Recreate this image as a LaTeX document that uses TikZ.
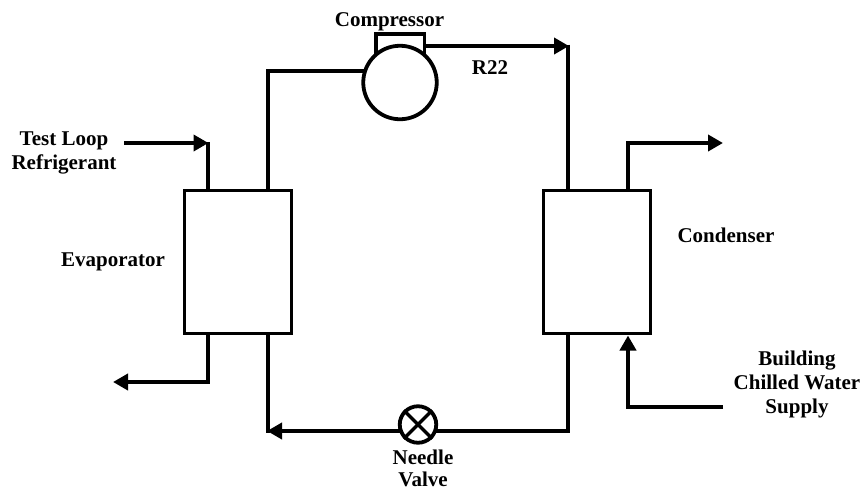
\documentclass[tikz,border=0pt]{standalone}
\usepackage{fontspec}
\setmainfont{Liberation Serif}
\usetikzlibrary{arrows.meta}
\tikzset{
  pipe/.style={line width=3.8pt,line cap=butt,line join=miter,draw=black},
  flow/.style={pipe,-{Triangle[length=15pt,width=16pt]}},
  exch/.style={draw=black,line width=3.4pt,fill=white,minimum width=107pt,minimum height=143pt,inner sep=0pt},
  lbl/.style={font=\fontsize{21pt}{24pt}\selectfont\bfseries,align=center,inner sep=0pt,text=black},
  comp/.style={circle,draw=black,line width=3.8pt,fill=white,minimum size=73.5pt,inner sep=0pt},
  vlv/.style={circle,draw=black,line width=3.8pt,fill=white,minimum size=36.5pt,inner sep=0pt}
}
\begin{document}
\begin{tikzpicture}[x=1pt,y=-1pt]
\useasboundingbox (0,0) rectangle (863,491);
\coordinate (inL) at (124,143);
\coordinate (tipL) at (208.5,143);
\coordinate (evapIn) at (208,190.5);
\coordinate (evapOutT) at (268,190.5);
\coordinate (a1) at (268,71);
\coordinate (cpL) at (370,71);
\coordinate (b1) at (376,60);
\coordinate (b2) at (376,34);
\coordinate (b3) at (424.5,34);
\coordinate (b4) at (424.5,60);
\coordinate (c1) at (424.5,46);
\coordinate (c2) at (569,46);
\coordinate (condT) at (568,190.5);
\coordinate (condB) at (568,333.5);
\coordinate (d1) at (568,431);
\coordinate (nvR) at (430,431);
\coordinate (nvL) at (405,431);
\coordinate (d2) at (267,431);
\coordinate (evapB) at (268,333.5);
\coordinate (e1) at (208,333.5);
\coordinate (e2) at (208,382);
\coordinate (e3) at (113,382);
\coordinate (f1) at (628,190.5);
\coordinate (f2) at (628,143);
\coordinate (f3) at (723,143);
\coordinate (g1) at (723,407);
\coordinate (g2) at (628,407);
\coordinate (g3) at (628,335.5);
% circuit
\draw[pipe] (evapOutT) -- (a1) -- (cpL);
\draw[pipe] (b1) -- (b2) -- (b3) -- (b4);
\draw[flow] (c1) -- (c2);
\draw[pipe] (568,44.5) -- (condT);
\draw[pipe] (condB) -- (d1) -- (nvR);
\draw[flow] (nvL) -- (d2);
\draw[pipe] (268,432.9) -- (evapB);
\draw[pipe] (evapIn) -- (208,141.5);
\draw[flow] (inL) -- (tipL);
\draw[flow] (e1) -- (e2) -- (e3);
\draw[flow] (f1) -- (f2) -- (f3);
\draw[flow] (g1) -- (g2) -- (g3);
\node[exch] (evap) at (238,262) {};
\node[exch] (cond) at (597,262) {};
\node[comp] (cp) at (400,82.5) {};
\node[vlv] (nv) at (418,424.5) {};
\draw[line width=3.4pt] (nv.north west) -- (nv.south east);
\draw[line width=3.4pt] (nv.north east) -- (nv.south west);
% labels
\node[lbl] (t1) at (389.5,22) {Compressor};
\node[lbl] (t2) at (490,68) {R22};
\node[lbl] (t3) at (64,153) {Test Loop\\Refrigerant};
\node[lbl] (t4) at (113,262) {Evaporator};
\node[lbl] (t5) at (726,235) {Condenser};
\node[lbl] (t6) at (797,384) {Building\\Chilled Water\\Supply};
\node[lbl] (t7) at (423,468.5) {Needle\\[-2pt]Valve};
\end{tikzpicture}
\end{document}
